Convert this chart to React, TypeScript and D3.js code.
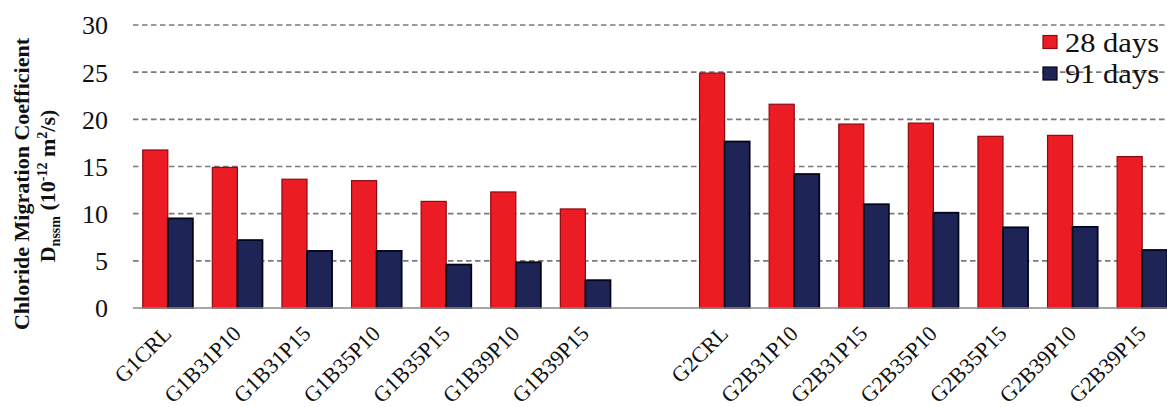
import React from "react";
import * as d3 from "d3";

const categories = [
  "G1CRL", "G1B31P10", "G1B31P15", "G1B35P10", "G1B35P15", "G1B39P10", "G1B39P15",
  "",
  "G2CRL", "G2B31P10", "G2B31P15", "G2B35P10", "G2B35P15", "G2B39P10", "G2B39P15",
];
const days28: (number | null)[] = [16.75, 14.9, 13.65, 13.5, 11.3, 12.3, 10.5, null, 24.9, 21.6, 19.5, 19.6, 18.2, 18.3, 16.05];
const days91: (number | null)[] = [9.5, 7.2, 6.05, 6.05, 4.6, 4.85, 2.95, null, 17.65, 14.2, 11.0, 10.1, 8.55, 8.6, 6.15];
const seriesNames = ["28 days", "91 days"];
const yTicks = [0, 5, 10, 15, 20, 25, 30];

const W = 1167;
const H = 407;
const FONT = "'Liberation Serif', 'Times New Roman', serif";
const fills = ["#ec1c24", "#1f2456"];
const strokes = ["#8e0a10", "#04061a"];

export default function App() {
  const keys = categories.map((c, i) => c || "__gap" + i);
  const x = d3.scaleBand<string>().domain(keys).range([133, 1177]).paddingInner(0.28).paddingOuter(0.14);
  const y = d3.scaleLinear().domain([0, 30]).range([308, 25]);
  const inner = d3.scaleBand<number>().domain([0, 1]).range([0, x.bandwidth()]);
  const series = [days28, days91];

  return (
    <svg width={W} height={H} style={{ position: "absolute", left: 0, top: 0, background: "#fff" }}>
      <rect x={0} y={0} width={W} height={H} fill="#fff" />
      {yTicks.filter((t) => t > 0).map((t) => (
        <line key={t} x1={133} x2={W} y1={y(t)} y2={y(t)} stroke="#7a7a7a" strokeWidth={1.7} strokeDasharray="5.5,3.5" />
      ))}
      {series.map((vals, s) =>
        vals.map((v, i) =>
          v == null ? null : (
            <rect
              key={s + "-" + i}
              x={(x(keys[i]) as number) + (inner(s) as number)}
              y={y(v)}
              width={inner.bandwidth()}
              height={y(0) - y(v)}
              fill={fills[s]}
              stroke={strokes[s]}
              strokeWidth={s === 0 ? 1.2 : 1.8}
            />
          )
        )
      )}
      <line x1={133} x2={W} y1={y(0)} y2={y(0)} stroke="#8a8a8a" strokeWidth={1.6} />
      {yTicks.map((t) => (
        <text key={t} x={108} y={y(t)} dy="0.36em" textAnchor="end" fontFamily={FONT} fontSize={26} fill="#111">
          {t}
        </text>
      ))}
      {categories.map((c, i) =>
        c ? (
          <text
            key={c}
            transform={`translate(${(x(keys[i]) as number) + x.bandwidth() / 2 + 5},${335}) rotate(-45)`}
            textAnchor="end"
            fontFamily={FONT}
            fontSize={22}
            fill="#111"
          >
            {c}
          </text>
        ) : null
      )}
      <text transform="translate(29,184) rotate(-90)" textAnchor="middle" fontFamily={FONT} fontSize={22} fontWeight="bold" fill="#111">
        Chloride Migration Coefficient
      </text>
      <text transform="translate(55,186) rotate(-90)" textAnchor="middle" fontFamily={FONT} fontSize={22} fontWeight="bold" fill="#111">
        <tspan>D</tspan>
        <tspan fontSize={14} dy={5}>nssm</tspan>
        <tspan dy={-5}> (10</tspan>
        <tspan fontSize={14} dy={-8}>-12</tspan>
        <tspan dy={8}> m</tspan>
        <tspan fontSize={14} dy={-8}>2</tspan>
        <tspan dy={8}>/s)</tspan>
      </text>
      {seriesNames.map((n, s) => (
        <g key={n} transform={`translate(1043,${42 + s * 31.5})`}>
          <rect x={0} y={-6.5} width={14} height={13} fill={fills[s]} stroke={strokes[s]} strokeWidth={1.2} />
          <text x={22} y={0} dy="0.34em" fontFamily={FONT} fontSize={28} fill="#111" textLength={94} lengthAdjust="spacingAndGlyphs">
            {n}
          </text>
        </g>
      ))}
    </svg>
  );
}
